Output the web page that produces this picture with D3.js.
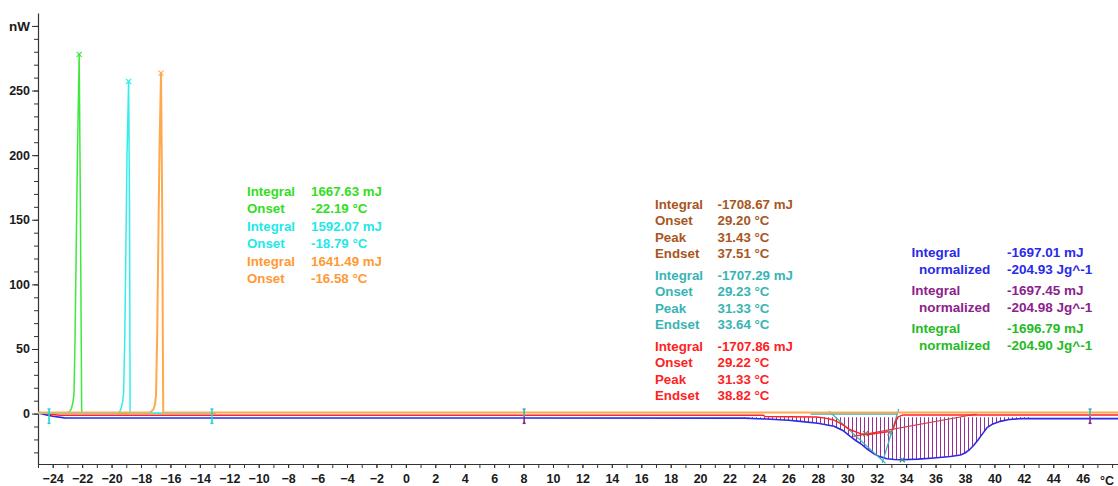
<!DOCTYPE html>
<html>
<head>
<meta charset="utf-8">
<script src="https://cdn.jsdelivr.net/npm/d3@7"></script>
<style>
body { margin: 0; background: #fff; }
text { font-family: Arial, "Liberation Sans", sans-serif; font-weight: bold; }
</style>
</head>
<body>
<div class="canvas"></div>
<script>
// ---- values (temperature °C, heat flow nW) ----
const xLabels = [-24,-22,-20,-18,-16,-14,-12,-10,-8,-6,-4,-2,0,2,4,6,8,10,12,14,16,18,20,22,24,26,28,30,32,34,36,38,40,42,44,46];
const yLabels = [0, 50, 100, 150, 200, 250];

// exotherm spikes (cooling)
const greenTrace = [[-25,0.3],[-23.0,0.3],[-22.85,1.5],[-22.72,4],[-22.62,9],[-22.55,16],[-22.48,60],[-22.32,200],[-22.2,278],[-22.12,160],[-22.03,0.3],[-12.9,0.3]];
const cyanTrace = [[-25,0.3],[-19.6,0.3],[-19.45,1.5],[-19.35,4],[-19.25,9],[-19.18,16],[-19.1,60],[-18.95,200],[-18.84,257],[-18.78,160],[-18.74,0.3],[-13.2,0.3]];
const orangeTrace = [[-25,0.8],[-17.45,0.8],[-17.3,1.5],[-17.15,3.5],[-17.05,7],[-16.98,14],[-16.9,60],[-16.75,200],[-16.64,263.5],[-16.56,160],[-16.49,0.8],[48.4,0.8]];

// endotherm (melting)
const blueTrace = [[-25,0.5],[-24.5,-0.8],[-24,-2],[-23.2,-3.3],[23,-3.5],[24.5,-4.2],[26,-5.2],[26.8,-6],[28,-7.5],[29.1,-9.8],[29.7,-13],[30.2,-17.6],[30.6,-21],[31.0,-24],[31.4,-27.8],[31.8,-31],[32.2,-33.3],[32.7,-34.9],[33.2,-35.5],[33.7,-35.7],[34.8,-35.2],[35.9,-34.3],[37.0,-33.2],[37.7,-32],[38.0,-30.5],[38.3,-28],[38.6,-24.5],[38.9,-20.2],[39.2,-15.5],[39.5,-10.9],[39.9,-8],[40.4,-6],[41.0,-4.6],[41.8,-3.9],[48.4,-3.9]];
const redTrace = [[-25,1],[-24.2,-0.5],[-23.5,-1.2],[24.3,-1.2],[24.4,-2.2],[27.9,-2.6],[28.5,-3.5],[29.1,-5],[29.6,-8],[30.2,-12.5],[30.9,-15.5],[31.4,-16.3],[32,-15.2],[33,-13.7],[33.15,-11],[33.3,-6],[33.45,-2.5],[33.8,-1],[48.4,-1]];
const redBaseline = [[30.4,-17.6],[38.8,-0.3]];
const tealBaseline = [[27.5,-0.3],[33.4,-0.3]];
const tealTangent1 = [[28.76,1.8],[32.6,-38.5]];
const tealTangent2 = [[32.38,-38],[33.5,3.6]];
const hatchRange = [15.5, 42.5];
const hatchBase = -2.9;

// limit markers and peak crosses
const limitMarks = [-24.25, -13.18, 8.04, 46.5];
const peakMarks = [[-22.2,278],[-18.84,257],[-16.64,263.5],[33.74,-35.7],[31.25,-15.5],[32.9,-14.8]];

// annotation texts
const leftLabels = ["Integral", "Onset"];
const leftValues = [["1667.63 mJ","-22.19 °C"],["1592.07 mJ","-18.79 °C"],["1641.49 mJ","-16.58 °C"]];
const midLabels = ["Integral", "Onset", "Peak", "Endset"];
const midValues = [["-1708.67 mJ","29.20 °C","31.43 °C","37.51 °C"],["-1707.29 mJ","29.23 °C","31.33 °C","33.64 °C"],["-1707.86 mJ","29.22 °C","31.33 °C","38.82 °C"]];
const rightLabels = ["Integral", "normalized"];
const rightValues = [["-1697.01 mJ","-204.93 Jg^-1"],["-1697.45 mJ","-204.98 Jg^-1"],["-1696.79 mJ","-204.90 Jg^-1"]];

// ---- styles ----
const col = {
    green: '#3fe83f', cyan: '#33eeee', orange: '#ffa94f', brown: '#a8561e',
    teal: '#38b4b4', red: '#ff2222', blue: '#2a2ae8', purple: '#8c218c',
    green2: '#25bb25', axis: '#333', text: '#1a1a1a'
};
const leftColors = ['#33dd22', '#22e8e8', '#ff9933'];
const midColors = [col.brown, col.teal, col.red];
const rightColors = [col.blue, col.purple, col.green2];

const W = 1118, H = 486;
const svg = d3.select('.canvas')
    .append('svg')
        .attr('width', W)
        .attr('height', H);

const x = d3.scaleLinear().domain([-25, 48.4]).range([38, W]);
const y = d3.scaleLinear().domain([-39, 310]).range([464, 13]);

const line = d3.line().x(d => x(d[0])).y(d => y(d[1]));

// hatch pattern for the integrated area
const defs = svg.append('defs');
const pat = defs.append('pattern')
    .attr('id', 'hatch')
    .attr('patternUnits', 'userSpaceOnUse')
    .attr('width', 4).attr('height', 10);
pat.append('rect')
    .attr('x', 0).attr('y', 0).attr('width', 1).attr('height', 10)
    .attr('fill', '#9a2c9a');

defs.append('clipPath').attr('id', 'hatchClip')
  .append('rect')
    .attr('x', x(hatchRange[0])).attr('y', 0)
    .attr('width', x(hatchRange[1]) - x(hatchRange[0])).attr('height', H);

defs.append('clipPath').attr('id', 'plotClip')
  .append('rect')
    .attr('x', x(-25)).attr('y', y(310))
    .attr('width', x(48.4) - x(-25)).attr('height', y(-39) - y(310));

// ---- axes ----
const xAxisMinor = d3.axisBottom(x).tickValues(d3.range(-25, 49, 1)).tickSize(4).tickSizeOuter(0).tickFormat('');
const xAxisMajor = d3.axisBottom(x).tickValues(xLabels).tickSize(4).tickSizeOuter(0).tickPadding(6);
const yAxisMinor = d3.axisLeft(y).tickValues(d3.range(-30, 310, 10)).tickSize(4).tickSizeOuter(0).tickFormat('');
const yAxisMajor = d3.axisLeft(y).tickValues(yLabels.concat([300])).tickSize(6).tickSizeOuter(0).tickPadding(2)
    .tickFormat(d => d === 300 ? 'nW' : d);

function styleAxis(g, size) {
    g.selectAll('path').attr('stroke', col.axis).attr('stroke-width', 1.2);
    g.selectAll('line').attr('stroke', col.axis);
    g.selectAll('text').attr('fill', col.text).style('font-size', size + 'px').style('font-family', 'Arial, "Liberation Sans", sans-serif').style('font-weight', 'bold');
}

svg.append('g').attr('transform', `translate(0,${y(-39)})`).call(xAxisMinor).call(g => styleAxis(g, 12.5));
const xg = svg.append('g').attr('transform', `translate(0,${y(-39)})`).call(xAxisMajor).call(g => styleAxis(g, 12.5));
xg.select('.domain').remove();
// unit label sits where the 48 tick would be, kept inside the frame
svg.append('text')
    .attr('x', W - 4).attr('y', y(-39) + 21)
    .attr('text-anchor', 'end')
    .attr('fill', col.text).style('font-size', '12.5px')
    .text('°C');

svg.append('g').attr('transform', `translate(${x(-25)},0)`).call(yAxisMinor).call(g => styleAxis(g, 12.5));
const yg = svg.append('g').attr('transform', `translate(${x(-25)},0)`).call(yAxisMajor).call(g => styleAxis(g, 12.5));
yg.select('.domain').remove();
yg.selectAll('text').filter(d => d === 300).style('font-size', '13.5px');

// ---- traces ----
const plot = svg.append('g').attr('clip-path', 'url(#plotClip)');

// hatched integral area
const hatchPts = blueTrace.filter(d => d[0] >= hatchRange[0] - 8 && d[0] <= hatchRange[1] + 8);
plot.append('path')
    .datum(hatchPts)
    .attr('clip-path', 'url(#hatchClip)')
    .attr('fill', 'url(#hatch)')
    .attr('d', d3.area().x(d => x(d[0])).y0(y(hatchBase)).y1(d => y(Math.min(d[1], hatchBase))));

function trace(data, color, width) {
    plot.append('path')
        .datum(data)
        .attr('fill', 'none')
        .attr('stroke', color)
        .attr('stroke-width', width)
        .attr('stroke-linejoin', 'round')
        .attr('d', line);
}

trace(blueTrace, col.blue, 1.6);
trace(tealTangent1, col.teal, 1.2);
trace(tealTangent2, col.teal, 1.2);
trace(redBaseline, '#c8403c', 1.2);
trace(redTrace, col.red, 1.5);
trace(tealBaseline, col.teal, 1.5);
trace(greenTrace, col.green, 1.5);
trace(cyanTrace, col.cyan, 1.5);
trace(orangeTrace, col.orange, 2);

// limit markers (small I-beams)
limitMarks.forEach((t, i) => {
    const top = i < 2 ? '#1ed8d8' : col.teal;
    const bot = i < 2 ? '#1ed8d8' : col.purple;
    const g = plot.append('g').attr('stroke-width', 1.6);
    g.append('line').attr('x1', x(t)).attr('x2', x(t)).attr('y1', y(3.5)).attr('y2', y(-2)).attr('stroke', top);
    g.append('line').attr('x1', x(t)).attr('x2', x(t)).attr('y1', y(-2)).attr('y2', y(-7.5)).attr('stroke', bot);
    g.append('line').attr('x1', x(t) - 1.5).attr('x2', x(t) + 1.5).attr('y1', y(3.5)).attr('y2', y(3.5)).attr('stroke', top);
    g.append('line').attr('x1', x(t) - 1.5).attr('x2', x(t) + 1.5).attr('y1', y(-7.5)).attr('y2', y(-7.5)).attr('stroke', bot);
});

// crosses at peaks
const crossColors = [col.green, col.cyan, col.orange, '#3a8a8a', '#8a6a4a', '#7a9a9a'];
peakMarks.forEach((d, i) => {
    const cx = x(d[0]), cy = y(d[1]), s = 2.5;
    plot.append('path')
        .attr('d', `M${cx - s},${cy - s}L${cx + s},${cy + s}M${cx - s},${cy + s}L${cx + s},${cy - s}`)
        .attr('stroke', crossColors[i]).attr('stroke-width', 1.2).attr('fill', 'none');
});

// ---- annotation blocks ----
function block(labels, values, colors, xl, xv, y0, rowStep, groupStep, size, indent) {
    values.forEach((grp, gi) => {
        grp.forEach((v, ri) => {
            const yy = y0 + gi * groupStep + ri * rowStep;
            svg.append('text')
                .attr('x', xl + (indent && ri > 0 ? indent : 0)).attr('y', yy)
                .attr('fill', colors[gi]).style('font-size', size + 'px')
                .text(labels[ri]);
            svg.append('text')
                .attr('x', xv).attr('y', yy)
                .attr('fill', colors[gi]).style('font-size', size + 'px')
                .text(v);
        });
    });
}

block(leftLabels, leftValues, leftColors, 247, 311, 196, 16.8, 35, 13.3, 0);
block(midLabels, midValues, midColors, 655, 717.5, 208.5, 16.6, 71, 13.3, 0);
block(rightLabels, rightValues, rightColors, 911.5, 1007, 257, 16.5, 38, 13.5, 7.5);
</script>
</body>
</html>
